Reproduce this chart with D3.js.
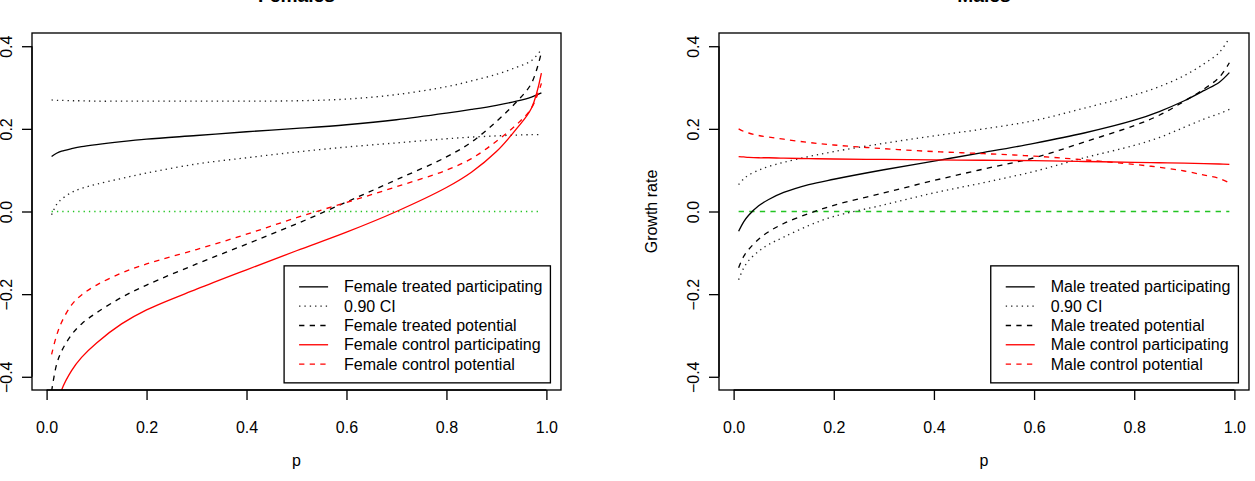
<!DOCTYPE html>
<html>
<head>
<meta charset="utf-8">
<script src="https://cdn.jsdelivr.net/npm/d3@7"></script>
<style>
  html, body { margin: 0; padding: 0; background: #fff; }
  svg { display: block; font-family: "Liberation Sans", Arial, Helvetica, sans-serif; }
</style>
</head>
<body>
<svg id="chart" width="1255" height="481"></svg>
<script>
// ---------------- data ----------------
const pValues = [0.01, 0.02, 0.03, 0.05, 0.07, 0.1, 0.15, 0.2, 0.3, 0.4, 0.5, 0.6, 0.7, 0.8, 0.85, 0.9, 0.94, 0.97, 0.99];

// Females
const femaleTreatedParticipating = [0.133, 0.141, 0.146, 0.152, 0.157, 0.162, 0.169, 0.175, 0.184, 0.193, 0.201, 0.210, 0.222, 0.238, 0.247, 0.257, 0.267, 0.277, 0.287];
const femaleCIUpper = [0.270, 0.269, 0.269, 0.268, 0.268, 0.267, 0.267, 0.267, 0.267, 0.267, 0.268, 0.272, 0.283, 0.302, 0.316, 0.332, 0.349, 0.365, 0.392];
const femaleCILower = [-0.008, 0.017, 0.030, 0.046, 0.056, 0.066, 0.080, 0.093, 0.115, 0.130, 0.144, 0.156, 0.166, 0.176, 0.180, 0.183, 0.185, 0.186, 0.186];
const femaleTreatedPotential = [-0.435, -0.370, -0.338, -0.298, -0.272, -0.245, -0.208, -0.178, -0.127, -0.079, -0.030, 0.023, 0.077, 0.132, 0.168, 0.218, 0.265, 0.310, 0.385];
const femaleControlParticipating = [-0.560, -0.480, -0.432, -0.385, -0.353, -0.318, -0.272, -0.238, -0.188, -0.141, -0.095, -0.050, 0.000, 0.058, 0.095, 0.145, 0.200, 0.250, 0.335];
const femaleControlPotential = [-0.346, -0.300, -0.268, -0.226, -0.202, -0.178, -0.149, -0.127, -0.092, -0.055, -0.015, 0.022, 0.060, 0.100, 0.128, 0.170, 0.210, 0.250, 0.310];

// Males
const maleTreatedParticipating = [-0.048, -0.025, -0.009, 0.014, 0.029, 0.046, 0.065, 0.078, 0.101, 0.122, 0.143, 0.165, 0.190, 0.221, 0.242, 0.268, 0.293, 0.313, 0.336];
const maleCIUpper = [0.065, 0.079, 0.088, 0.100, 0.109, 0.119, 0.133, 0.145, 0.165, 0.183, 0.200, 0.220, 0.250, 0.282, 0.302, 0.329, 0.358, 0.385, 0.420];
const maleCILower = [-0.165, -0.137, -0.119, -0.096, -0.080, -0.062, -0.034, -0.012, 0.016, 0.045, 0.070, 0.097, 0.130, 0.160, 0.179, 0.204, 0.224, 0.237, 0.247];
const maleTreatedPotential = [-0.136, -0.109, -0.092, -0.067, -0.049, -0.029, -0.005, 0.015, 0.045, 0.075, 0.103, 0.130, 0.168, 0.208, 0.233, 0.267, 0.297, 0.325, 0.360];
const maleControlParticipating = [0.133, 0.132, 0.131, 0.130, 0.130, 0.129, 0.128, 0.127, 0.126, 0.125, 0.124, 0.123, 0.121, 0.119, 0.118, 0.117, 0.116, 0.115, 0.114];
const maleControlPotential = [0.200, 0.194, 0.190, 0.184, 0.180, 0.175, 0.167, 0.161, 0.152, 0.145, 0.140, 0.134, 0.125, 0.114, 0.107, 0.098, 0.088, 0.080, 0.069];

const zeroLine = [0.0, 0.0];
const zeroLineP = [0.01, 0.99];

const xTicks = [0, 0.2, 0.4, 0.6, 0.8, 1.0];
const yTicks = [-0.4, -0.2, 0.0, 0.2, 0.4];
const titles = ["Females", "Males"];
const xLabel = "p";
const yLabel = "Growth rate";
const femaleLegend = ["Female treated participating", "0.90 CI", "Female treated potential", "Female control participating", "Female control potential"];
const maleLegend = ["Male treated participating", "0.90 CI", "Male treated potential", "Male control participating", "Male control potential"];

// ---------------- styles ----------------
const LW = 1.33;
const DASH = "5.3,5.3";
const DOT = "1.33,4";
const RED = "#ff0000";
const BLACK = "#000000";
const DOTCOL = "#222222";
const GREEN = "#22c422";
const FONT = 16;

const svg = d3.select("#chart");
svg.append("rect").attr("width", 1255).attr("height", 481).attr("fill", "#fff");

const panels = [
  {
    x0: 32, x1: 561, title: titles[0], showYLabel: false, greenDash: DOT,
    series: [
      { v: femaleTreatedParticipating, color: BLACK, dash: null },
      { v: femaleCIUpper, color: DOTCOL, dash: DOT },
      { v: femaleCILower, color: DOTCOL, dash: DOT },
      { v: femaleTreatedPotential, color: BLACK, dash: DASH },
      { v: femaleControlParticipating, color: RED, dash: null },
      { v: femaleControlPotential, color: RED, dash: DASH }
    ],
    legend: femaleLegend
  },
  {
    x0: 719, x1: 1249, title: titles[1], showYLabel: true, greenDash: DASH,
    series: [
      { v: maleTreatedParticipating, color: BLACK, dash: null },
      { v: maleCIUpper, color: DOTCOL, dash: DOT },
      { v: maleCILower, color: DOTCOL, dash: DOT },
      { v: maleTreatedPotential, color: BLACK, dash: DASH },
      { v: maleControlParticipating, color: RED, dash: null },
      { v: maleControlPotential, color: RED, dash: DASH }
    ],
    legend: maleLegend
  }
];

const legendStyles = [
  { color: BLACK, dash: null },
  { color: DOTCOL, dash: DOT },
  { color: BLACK, dash: DASH },
  { color: RED, dash: null },
  { color: RED, dash: DASH }
];

const Y0 = 33, Y1 = 390;
const pMin = d3.min(pValues), pMax = d3.max(pValues);
const ext = (pMax - pMin) * 0.04;
const yExt = 0.8 * 0.04;

panels.forEach((P, idx) => {
  const x = d3.scaleLinear().domain([pMin - ext, pMax + ext]).range([P.x0, P.x1]);
  const y = d3.scaleLinear().domain([-0.4 - yExt, 0.4 + yExt]).range([Y1, Y0]);
  const g = svg.append("g");

  const clipId = "clip" + idx;
  svg.append("clipPath").attr("id", clipId)
    .append("rect").attr("x", P.x0).attr("y", Y0).attr("width", P.x1 - P.x0).attr("height", Y1 - Y0);

  const plot = g.append("g").attr("clip-path", `url(#${clipId})`);
  const line = d3.line().x(d => x(d[0])).y(d => y(d[1])).curve(d3.curveCatmullRom.alpha(0.5));

  // zero line
  plot.append("path")
    .attr("d", line(zeroLineP.map((p, i) => [p, zeroLine[i]])))
    .attr("fill", "none").attr("stroke", GREEN).attr("stroke-width", LW)
    .attr("stroke-dasharray", P.greenDash);

  P.series.forEach(s => {
    plot.append("path")
      .attr("d", line(pValues.map((p, i) => [p, s.v[i]])))
      .attr("fill", "none").attr("stroke", s.color).attr("stroke-width", LW)
      .attr("stroke-dasharray", s.dash);
  });

  // box
  g.append("rect").attr("x", P.x0).attr("y", Y0).attr("width", P.x1 - P.x0).attr("height", Y1 - Y0)
    .attr("fill", "none").attr("stroke", "#000").attr("stroke-width", LW);

  // x axis
  const xa = g.append("g").attr("transform", `translate(0,${Y1})`)
    .call(d3.axisBottom(x).tickValues(xTicks).tickFormat(d3.format(".1f")).tickSize(10).tickSizeOuter(0).tickPadding(0));
  xa.select(".domain").remove();
  xa.selectAll(".tick line").attr("stroke", "#000").attr("stroke-width", LW);
  xa.selectAll(".tick text").attr("font-size", FONT).attr("fill", "#000")
    .attr("y", 43).attr("dy", null).attr("font-family", "Liberation Sans, Arial, sans-serif");
  g.append("line").attr("x1", x(xTicks[0])).attr("x2", x(xTicks[xTicks.length - 1]))
    .attr("y1", Y1).attr("y2", Y1).attr("stroke", "#000").attr("stroke-width", LW);

  // y axis
  const ya = g.append("g").attr("transform", `translate(${P.x0},0)`)
    .call(d3.axisLeft(y).tickValues(yTicks).tickFormat(d3.format(".1f")).tickSize(10).tickSizeOuter(0));
  ya.select(".domain").remove();
  ya.selectAll(".tick line").attr("stroke", "#000").attr("stroke-width", LW);
  ya.selectAll(".tick text").remove();
  ya.selectAll(".tick").append("text")
    .attr("transform", "translate(-20.5,0) rotate(-90)")
    .attr("text-anchor", "middle")
    .attr("font-size", FONT).attr("fill", "#000")
    .attr("font-family", "Liberation Sans, Arial, sans-serif")
    .text(d => d3.format(".1f")(d));
  g.append("line").attr("x1", P.x0).attr("x2", P.x0)
    .attr("y1", y(yTicks[0])).attr("y2", y(yTicks[yTicks.length - 1]))
    .attr("stroke", "#000").attr("stroke-width", LW);

  // x label
  g.append("text").attr("x", (P.x0 + P.x1) / 2).attr("y", 466)
    .attr("text-anchor", "middle").attr("font-size", FONT).text(xLabel);

  // y label
  if (P.showYLabel) {
    g.append("text").attr("transform", `translate(${P.x0 - 62},${(Y0 + Y1) / 2}) rotate(-90)`)
      .attr("text-anchor", "middle").attr("font-size", FONT).text(yLabel);
  }

  // title
  g.append("text").attr("x", (P.x0 + P.x1) / 2).attr("y", 2)
    .attr("text-anchor", "middle").attr("font-size", 19.2).attr("font-weight", "bold").text(P.title);

  // legend
  const boxRight = P.x1 - 0.02 * (P.x1 - P.x0);
  const boxBottom = Y1 - 0.02 * (Y1 - Y0);
  const lg = g.append("g");
  const texts = lg.selectAll("text").data(P.legend).join("text")
    .attr("font-size", FONT).attr("dominant-baseline", "central").text(d => d);
  let maxW = 0;
  texts.each(function () { maxW = Math.max(maxW, this.getComputedTextLength()); });
  const textX = boxRight - 8 - maxW;
  const boxLeft = textX - 60;
  const rowStep = 19.3;
  const boxTop = boxBottom - 117;
  const row0 = boxTop + 21;
  texts.attr("x", textX).attr("y", (d, i) => row0 + i * rowStep);
  lg.insert("rect", "text").attr("x", boxLeft).attr("y", boxTop).attr("width", boxRight - boxLeft).attr("height", boxBottom - boxTop)
    .attr("fill", "#fff").attr("stroke", "#000").attr("stroke-width", LW);
  lg.selectAll("line.key").data(legendStyles).join("line").attr("class", "key")
    .attr("x1", boxLeft + 15).attr("x2", boxLeft + 44)
    .attr("y1", (d, i) => row0 + i * rowStep).attr("y2", (d, i) => row0 + i * rowStep)
    .attr("stroke", d => d.color).attr("stroke-width", LW).attr("stroke-dasharray", d => d.dash);
});
</script>
</body>
</html>
